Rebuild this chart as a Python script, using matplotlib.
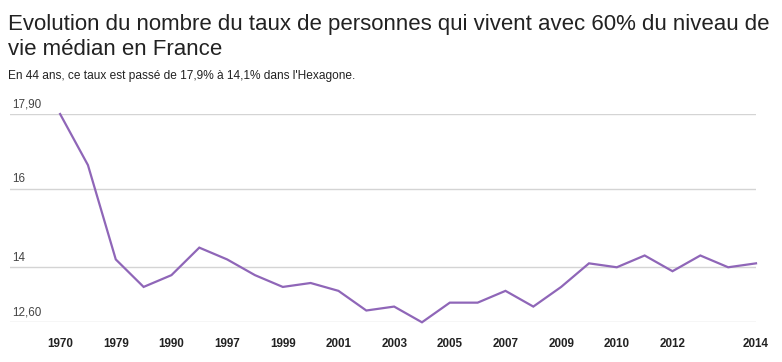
import matplotlib
matplotlib.use('Agg')
import matplotlib.pyplot as plt
import matplotlib.transforms as mtransforms

plt.rcParams['font.family'] = ['Liberation Sans', 'DejaVu Sans']

# data (INSEE poverty rate at 60% of median income)
years = ['1970', '1975', '1979', '1984', '1990', '1996', '1997', '1998', '1999',
         '2000', '2001', '2002', '2003', '2004', '2005', '2006', '2007', '2008',
         '2009', '2010', '2010', '2011', '2012', '2012', '2013', '2014']
taux = [17.9, 16.6, 14.2, 13.5, 13.8, 14.5, 14.2, 13.8, 13.5,
        13.6, 13.4, 12.9, 13.0, 12.6, 13.1, 13.1, 13.4, 13.0,
        13.5, 14.1, 14.0, 14.3, 13.9, 14.3, 14.0, 14.1]
y_ticks = [12.6, 14, 16, 17.9]
y_labels = ['12,60', '14', '16', '17,90']
x_shown = [0, 2, 4, 6, 8, 10, 12, 14, 16, 18, 20, 22, 25]

W, H = 782, 362
fig = plt.figure(figsize=(W / 100, H / 100), dpi=100)
ax = fig.add_axes([10 / W, (H - 322.3) / H, (756 - 10) / W, (322.3 - 114) / H])

x = list(range(len(taux)))
ax.plot(x, taux, color='#8f66b8', lw=1.6, clip_on=False, zorder=3,
        solid_joinstyle='miter')

ax.set_xlim(-1.8, len(taux) - 1)
ax.set_ylim(12.6, 17.9)

# gridlines
for v in y_ticks:
    ax.axhline(v, color='#d4d4d4', lw=1, zorder=1)

# y labels sit above their gridline, at the left edge
trans = mtransforms.blended_transform_factory(ax.transAxes, ax.transData)
for v, lab in zip(y_ticks, y_labels):
    ax.annotate(lab, xy=(0, v), xycoords=trans, xytext=(1.5, 2.5),
                textcoords='offset points', ha='left', va='bottom',
                fontsize=8.4, color='#444444')

ax.set_yticks([])
ax.set_xticks(x_shown)
ax.set_xticklabels([years[i] for i in x_shown], fontsize=8.4,
                   fontweight='bold', color='#222222')
ax.tick_params(axis='x', length=0, pad=11)
for s in ax.spines.values():
    s.set_visible(False)

fig.text(8 / W, 1 - 30 / H, "Evolution du nombre du taux de personnes qui vivent avec 60% du niveau de",
         fontsize=16, color='#222222', ha='left', va='baseline')
fig.text(8 / W, 1 - 55 / H, "vie médian en France",
         fontsize=16, color='#222222', ha='left', va='baseline')
fig.text(8 / W, 1 - 79 / H, "En 44 ans, ce taux est passé de 17,9% à 14,1% dans l'Hexagone.",
         fontsize=8.6, color='#222222', ha='left', va='baseline')

fig.savefig('out.png', dpi=100)
